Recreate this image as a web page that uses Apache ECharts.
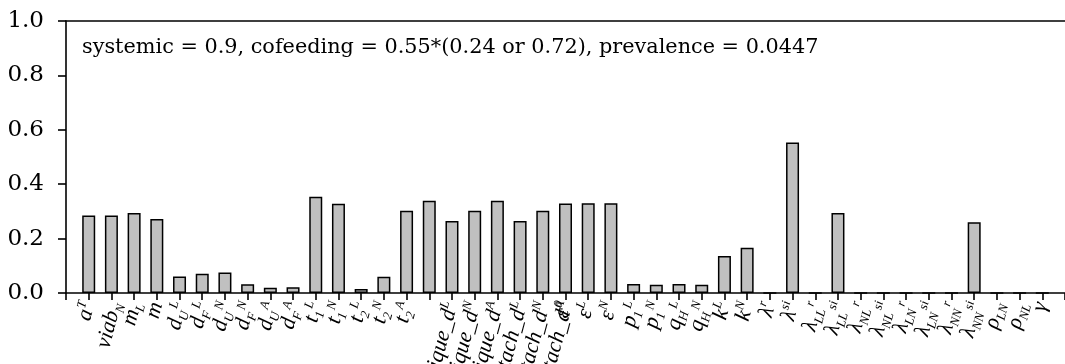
<!DOCTYPE html>
<html><head><meta charset="utf-8">
<script src="https://cdn.jsdelivr.net/npm/echarts@6/dist/echarts.min.js"></script>
<style>html,body{margin:0;padding:0;background:#fff}#c{width:1065px;height:364px}</style>
</head><body><div id="c"></div>
<script>
// Category labels: base text, subscript, superscript
const labelBase = ['a','viab','m','m','d','d','d','d','d','d','t','t','t','t','t',
  'feeding_technique_d','feeding_technique_d','feeding_technique_d',
  'feeding_site_attach_d','feeding_site_attach_d','feeding_site_attach_d','ε','ε','ε',
  'p','p','q','q','k','k','λ','λ','λ','λ','λ','λ','λ','λ','λ','λ','ρ','ρ','γ'];
const labelSub = ['','N','L','','U','F','U','F','U','F','1','1','2','2','2',
  '','','','','','','','','',
  '1','1','H','H','','','','','LL','LL','NL','NL','LN','LN','NN','NN','LN','NL',''];
const labelSup = ['T','','','','L','L','N','N','A','A','L','N','L','N','A',
  'L','N','A','L','N','A','0','L','N',
  'L','N','L','N','L','N','r','si','r','si','r','si','r','si','r','si','','',''];
const values = [0.285,0.285,0.294,0.272,0.061,0.071,0.075,0.032,0.019,0.021,
  0.354,0.328,0.015,0.06,0.302,0.339,0.265,0.302,0.339,0.265,0.302,
  0.329,0.33,0.33,0.033,0.03,0.033,0.03,0.136,0.166,0,0.553,
  0,0.294,0,0,0,0,0,0.26,0,0,0];
const annotation = 'systemic = 0.9, cofeeding = 0.55*(0.24 or 0.72), prevalence = 0.0447';

const SERIF = '"DejaVu Serif", serif';
const MATH = '"Liberation Serif", "Times New Roman", serif';
const BASE_SIZE = 22, SCRIPT_SIZE = 13;

// padded categories: empty slot at the start and end of the axis
const cats = [''].concat(labelBase.map((b, i) => 'c' + i)).concat(['']);
const barData = [null].concat(values).concat([null]);

// Rotated labels are centred on their tick (like the source); emulate by
// shifting each label in proportion to its length.
const ctx = document.createElement('canvas').getContext('2d');
function textW(t, size) { ctx.font = 'italic ' + size + 'px ' + MATH; return ctx.measureText(t).width; }
const rich = {
  sub: {fontFamily: MATH, fontStyle: 'italic', fontSize: SCRIPT_SIZE, verticalAlign: 'bottom', color: '#000'}
};
const T0 = 8;
labelBase.forEach((b, i) => {
  const L = textW(b, BASE_SIZE) + textW(labelSub[i], SCRIPT_SIZE) + textW(labelSup[i], SCRIPT_SIZE);
  const s = 0.125 * L;
  const t = Math.max(0, T0 - 0.268 * s);
  const B = 2.5;
  const T = 2 * s + B;
  rich['b' + i] = {fontFamily: MATH, fontStyle: 'italic', fontSize: BASE_SIZE, color: '#000', padding: [T, 0, B, 0]};
  rich['p' + i] = {fontFamily: MATH, fontStyle: 'italic', fontSize: SCRIPT_SIZE, color: '#000', verticalAlign: 'top', padding: [Math.max(0, T - 1.5), 0, 0, 0]};
  rich['e' + i] = {fontSize: 1, width: t, verticalAlign: 'bottom'};
});

function fmtLabel(v, idx) {
  const i = idx - 1;
  if (i < 0 || i >= labelBase.length) return '';
  let s = '{b' + i + '|' + labelBase[i] + '}';
  if (labelSub[i]) s += '{sub|' + labelSub[i] + '}';
  if (labelSup[i]) s += '{p' + i + '|' + labelSup[i] + '}';
  s += '{e' + i + '| }';
  return s;
}

const chart = echarts.init(document.getElementById('c'), null, {renderer: 'canvas'});
chart.setOption({
  animation: false,
  backgroundColor: '#fff',
  title: {
    text: annotation,
    left: 82, top: 36, padding: 0,
    textStyle: {fontFamily: SERIF, fontWeight: 'normal', fontSize: 20.8, lineHeight: 24, color: '#000'}
  },
  grid: {left: 66, right: 0, top: 21, bottom: 71, containLabel: false, outerBoundsMode: 'none'},
  xAxis: [{
    type: 'category', data: cats, boundaryGap: false,
    axisLine: {lineStyle: {color: '#000', width: 1.6}},
    axisTick: {show: true, interval: 0, length: 7, lineStyle: {color: '#000', width: 1.6}},
    axisLabel: {interval: 0, rotate: 75, margin: 2, formatter: fmtLabel, color: '#000', rich: rich},
    splitLine: {show: false}
  }, {
    type: 'category', data: cats, boundaryGap: false, position: 'top',
    axisLine: {lineStyle: {color: '#000', width: 1.6}},
    axisTick: {show: false}, axisLabel: {show: false}, splitLine: {show: false}
  }],
  yAxis: {
    type: 'value', min: 0, max: 1, interval: 0.2,
    axisLine: {show: true, lineStyle: {color: '#000', width: 1.6}},
    axisTick: {show: true, length: 8, lineStyle: {color: '#000', width: 1.6}},
    axisLabel: {formatter: v => v.toFixed(1), fontFamily: SERIF, fontSize: 23, color: '#000', margin: 22},
    splitLine: {show: false}
  },
  series: [{
    type: 'bar', data: barData, barWidth: 13, xAxisIndex: 0,
    itemStyle: {color: '#c0c0c0', borderColor: '#000', borderWidth: 1.5}
  }]
});
</script></body></html>
